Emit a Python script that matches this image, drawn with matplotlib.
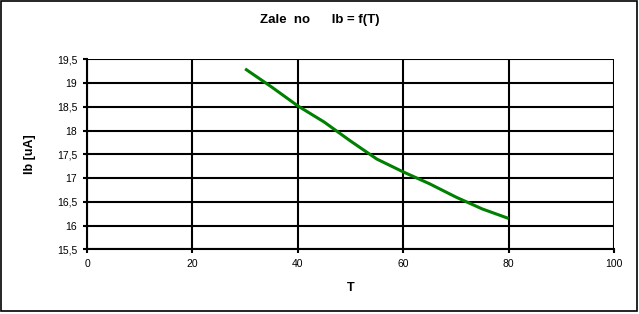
import matplotlib
matplotlib.use("Agg")
import matplotlib.pyplot as plt
from matplotlib.patches import Rectangle
from matplotlib.ticker import FuncFormatter

plt.rcParams['font.family'] = ['Liberation Sans', 'DejaVu Sans']

# data
T = [30, 35, 40, 45, 50, 55, 60, 65, 70, 75, 80]
Ib = [19.30, 18.92, 18.52, 18.18, 17.78, 17.40, 17.13, 16.88, 16.60, 16.35, 16.15]

x_ticks = [0, 20, 40, 60, 80, 100]
y_ticks = [15.5, 16, 16.5, 17, 17.5, 18, 18.5, 19, 19.5]

fig = plt.figure(figsize=(6.39, 3.14), dpi=100)
ax = fig.add_axes([0.1362, 0.206, 0.8247, 0.605])

ax.plot(T, Ib, color='#008000', linewidth=2.2, solid_capstyle='butt', zorder=3)

ax.set_xlim(0, 100)
ax.set_ylim(15.5, 19.5)
ax.set_xticks(x_ticks)
ax.set_yticks(y_ticks)
ax.yaxis.set_major_formatter(FuncFormatter(lambda v, p: f"{v:g}".replace('.', ',')))
ax.grid(True, color='black', linewidth=1.5)
for s in ax.spines.values():
    s.set_visible(False)
ax.spines['left'].set_visible(True)
ax.spines['bottom'].set_visible(True)
ax.spines['left'].set_linewidth(1.5)
ax.spines['bottom'].set_linewidth(1.5)
ax.tick_params(direction='out', length=3, width=1.5, labelsize=7.5, pad=4)

ax.set_xlabel('T', fontsize=9, fontweight='bold', labelpad=9)
ax.set_ylabel('Ib [uA]', fontsize=9, fontweight='bold', labelpad=15)
fig.text(0.5, 0.936, 'Zale  no      Ib = f(T)', ha='center', va='center',
         fontsize=9.5, fontweight='bold')

# outer border of the chart area
fig.patches.append(Rectangle((0.001, 0.008), 0.996, 0.99, transform=fig.transFigure,
                             fill=False, edgecolor='black', linewidth=1.2))

fig.savefig('out.png', dpi=100)
